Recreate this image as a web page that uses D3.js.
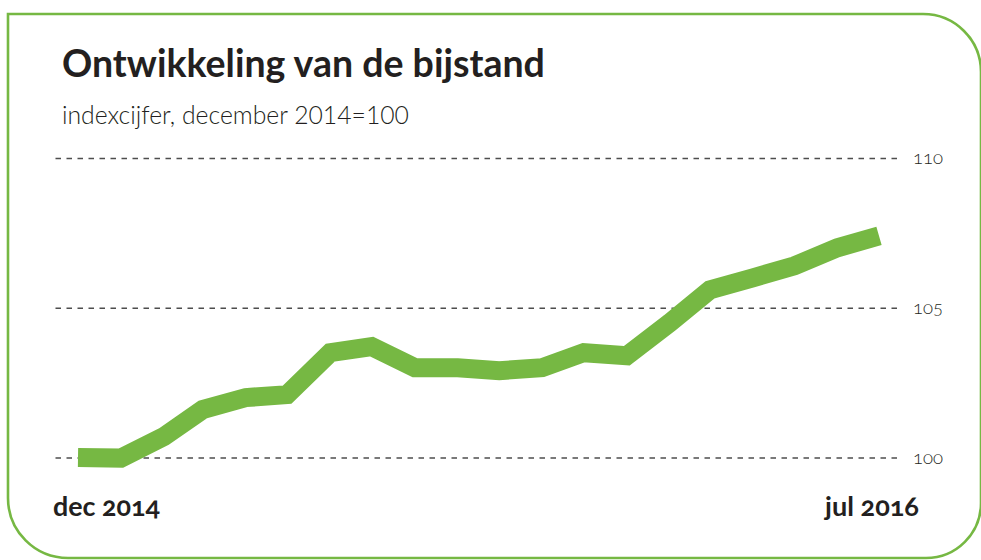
<!DOCTYPE html>
<html>
<head>
<meta charset="utf-8">
<script src="https://cdn.jsdelivr.net/npm/d3@7"></script>
<style>
  body { margin: 0; background: #fff; }
  svg { display: block; font-family: Lato, "Open Sans", sans-serif; }
  .title { font-weight: 700; fill: #231f20; }
  .subtitle { font-weight: 300; fill: #231f20; }
  .x-label { font-weight: 700; fill: #231f20; font-variant-numeric: oldstyle-nums; }
  .axis text { font-family: Lato, sans-serif; font-weight: 300; fill: #231f20; font-variant-numeric: oldstyle-nums; }
</style>
</head>
<body>
<svg id="chart"></svg>
<script>
// data
const months = ['2014-12', '2015-01', '2015-02', '2015-03', '2015-04', '2015-05', '2015-06',
  '2015-07', '2015-08', '2015-09', '2015-10', '2015-11', '2015-12', '2016-01', '2016-02',
  '2016-03', '2016-04', '2016-05', '2016-06', '2016-07']
const indexValues = [100.0, 99.98, 100.7, 101.6, 102.0, 102.1, 103.5, 103.7, 103.0, 103.0,
  102.9, 103.0, 103.5, 103.4, 104.5, 105.6, 106.0, 106.4, 107.0, 107.4]
const yTicks = [100, 105, 110]
const xLabels = ['dec 2014', 'jul 2016']
const title = 'Ontwikkeling van de bijstand'
const subtitle = 'indexcijfer, december 2014=100'

const width = 981, height = 560
const GREEN = '#76b843'

const $svg = d3.select('#chart').attr('width', width).attr('height', height)

const parseMonth = d3.timeParse('%Y-%m')
const dataset = months.map((m, i) => ({ date: parseMonth(m), value: indexValues[i] }))

// frame: square top-left, rounded other corners
const frame = d3.path()
frame.moveTo(8, 14)
frame.lineTo(923, 14)
frame.arcTo(981, 14, 981, 72, 58)
frame.lineTo(981, 503)
frame.arcTo(981, 558, 926, 558, 55)
frame.lineTo(68, 558)
frame.arcTo(8, 558, 8, 498, 60)
frame.closePath()
$svg.append('path')
  .attr('d', frame.toString())
  .attr('fill', 'none')
  .attr('stroke', GREEN)
  .attr('stroke-width', 2.6)

// fit text to a target width
function fitText(sel, targetWidth, startSize) {
  sel.style('font-size', startSize + 'px')
  const w = sel.node().getComputedTextLength()
  sel.style('font-size', (startSize * targetWidth / w) + 'px')
}

const $title = $svg.append('text')
  .attr('class', 'title')
  .attr('x', 62)
  .attr('y', 77)
  .text(title)
fitText($title, 483, 36)

const $subtitle = $svg.append('text')
  .attr('class', 'subtitle')
  .attr('x', 62)
  .attr('y', 124)
  .text(subtitle)
fitText($subtitle, 347, 22)

// scales
const xScale = d3.scaleTime()
  .domain(d3.extent(dataset, d => d.date))
  .range([78, 879])

const yScale = d3.scaleLinear()
  .domain([100, 110])
  .range([457.5, 158])

const gridLeft = 55, gridRight = 897

const $yAxis = $svg.append('g')
  .attr('class', 'axis y-axis')
  .attr('transform', `translate(${gridRight}, 0)`)
  .call(d3.axisRight(yScale)
    .tickValues(yTicks)
    .tickSize(-(gridRight - gridLeft))
    .tickPadding(16)
    .tickFormat(d3.format('d')))

$yAxis.select('.domain').remove()
$yAxis.selectAll('.tick line')
  .attr('stroke', '#4d4d4d')
  .attr('stroke-width', 1.4)
  .attr('stroke-dasharray', '5.5,5.5')
$yAxis.selectAll('.tick text')
  .attr('dy', '0.3em')
  .each(function () { fitText(d3.select(this), 30, 19) })

// line
const line = d3.line()
  .x(d => xScale(d.date))
  .y(d => yScale(d.value))

$svg.append('path')
  .datum(dataset)
  .attr('d', line)
  .attr('fill', 'none')
  .attr('stroke', GREEN)
  .attr('stroke-width', 19)
  .attr('stroke-linejoin', 'miter')
  .attr('stroke-linecap', 'butt')

// x labels
const first = dataset[0].date, last = dataset[dataset.length - 1].date
const $xFirst = $svg.append('text')
  .attr('class', 'x-label')
  .attr('x', xScale(first) - 25)
  .attr('y', 516)
  .text(xLabels[0])
fitText($xFirst, 107, 24)

const $xLast = $svg.append('text')
  .attr('class', 'x-label')
  .attr('x', xScale(last) + 40)
  .attr('y', 516)
  .attr('text-anchor', 'end')
  .text(xLabels[1])
fitText($xLast, 94, 24)
</script>
</body>
</html>
